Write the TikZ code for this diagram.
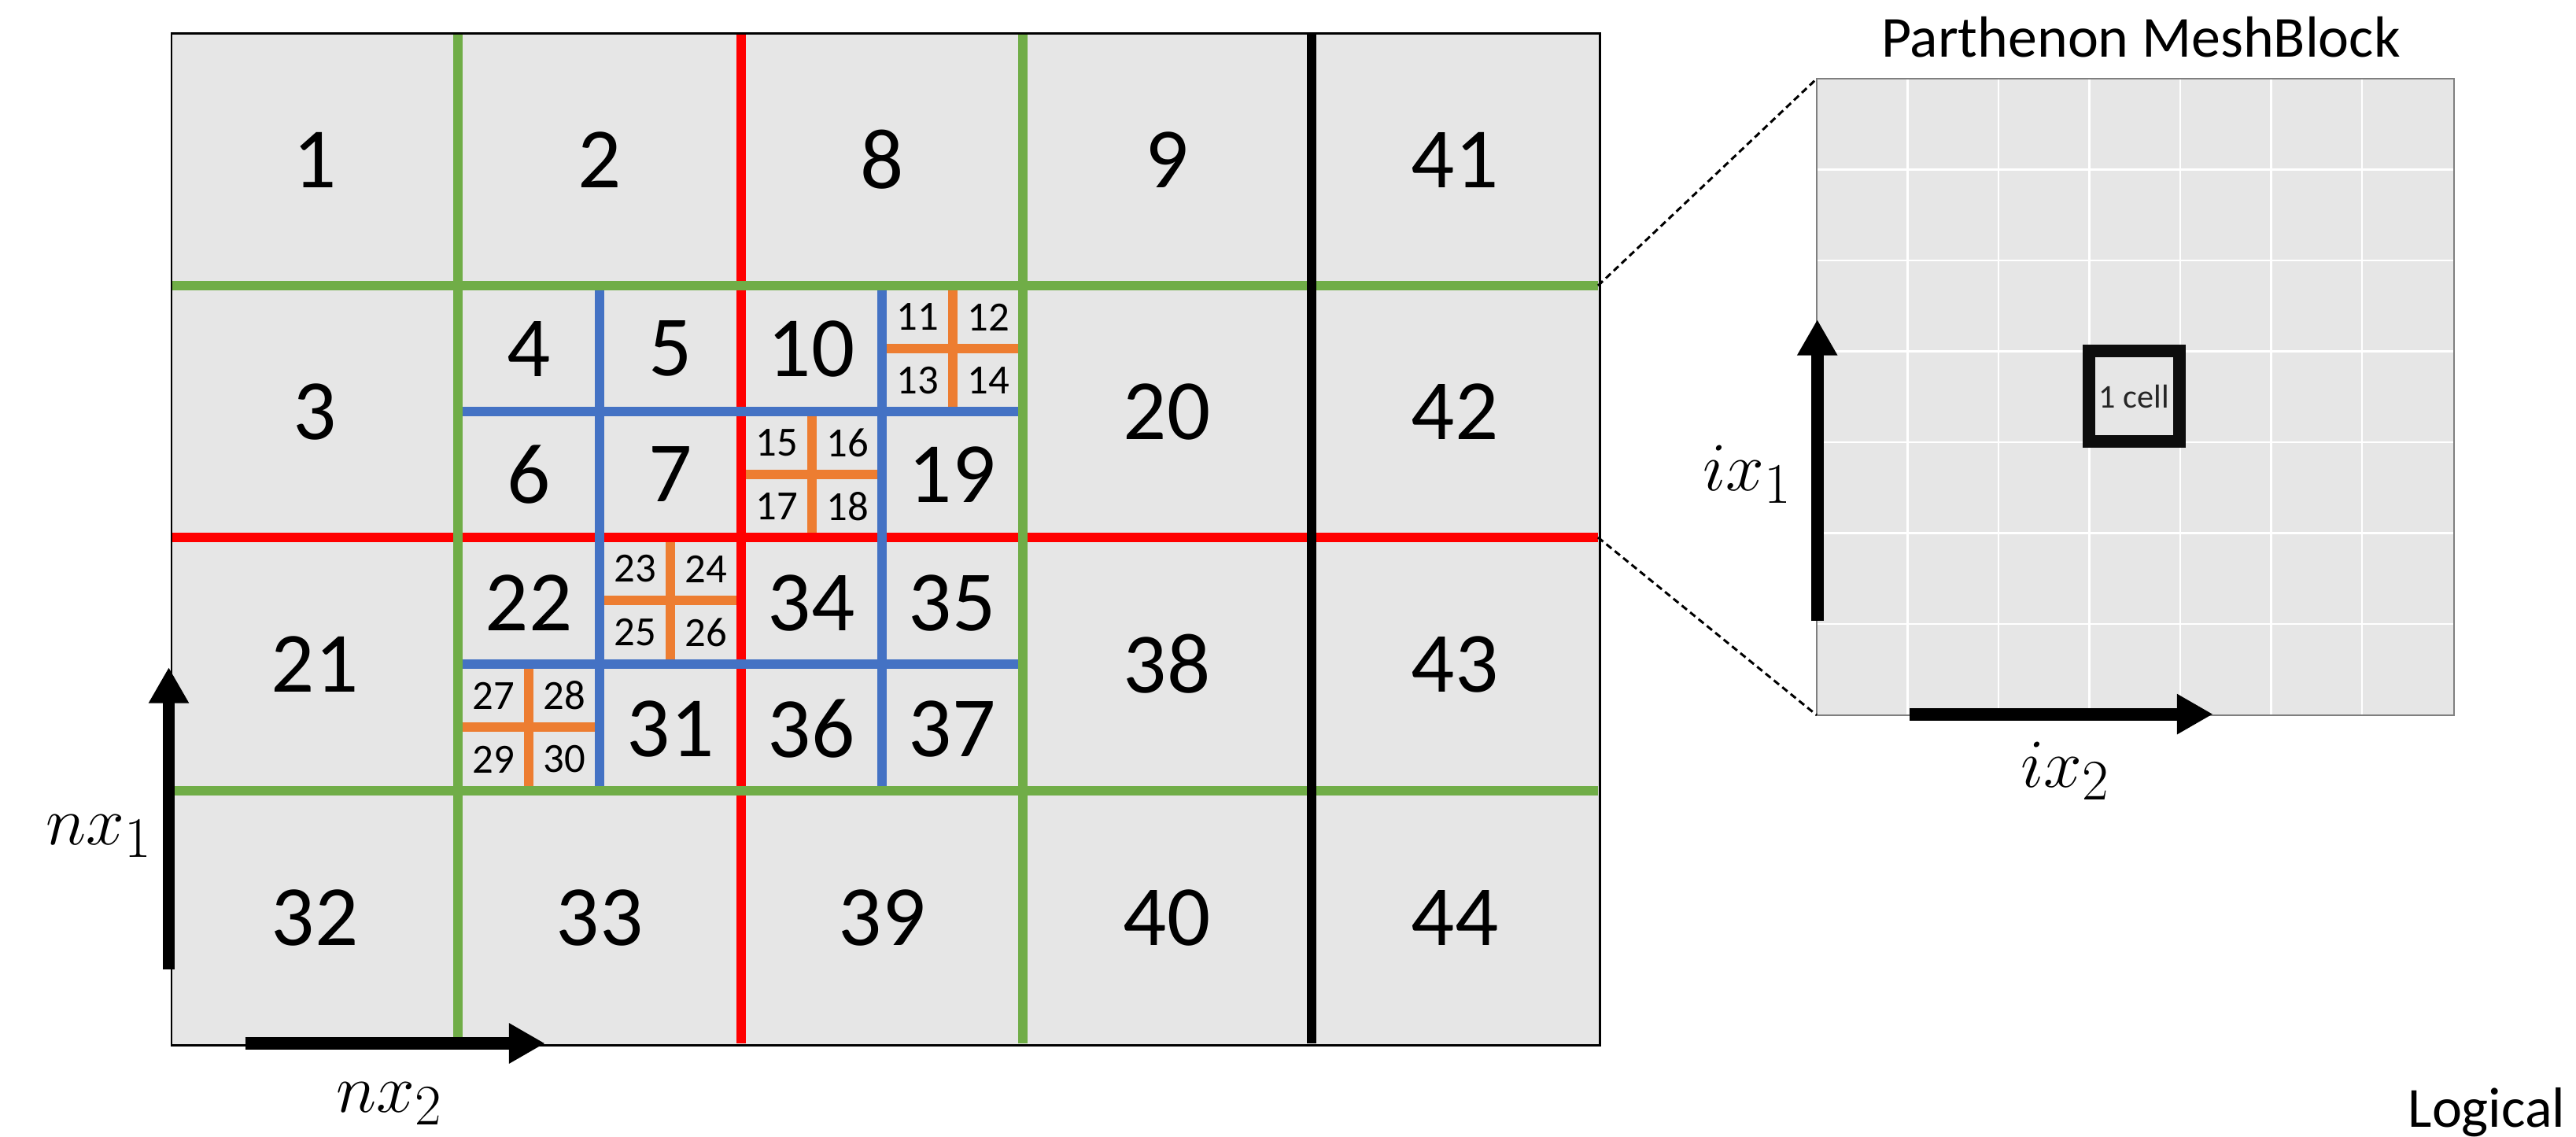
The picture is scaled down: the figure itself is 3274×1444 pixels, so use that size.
\documentclass[tikz,border=0pt]{standalone}
\usepackage{fontspec}
\setmainfont{Carlito}
\usepackage{tikz}
\usetikzlibrary{arrows.meta, positioning, calc}

\definecolor{lvgreen}{HTML}{70AD47}
\definecolor{lvred}{HTML}{FF0000}
\definecolor{lvblue}{HTML}{4472C4}
\definecolor{lvorange}{HTML}{ED7D31}
\definecolor{blockgray}{HTML}{E6E6E6}
\definecolor{edgegray}{HTML}{7F7F7F}
\definecolor{textgray}{HTML}{262626}

\begin{document}
\begin{tikzpicture}[
    x=0.01cm, y=-0.01cm,
    level/.style={line width=3.4pt, draw=#1},
    bignum/.style={font=\fontsize{31}{37}\selectfont, inner sep=0pt},
    smallnum/.style={font=\fontsize{15}{18}\selectfont, inner sep=0pt},
    axis/.style={-{Triangle[length=13pt, width=13.7pt]}, line width=4.5pt},
    axislabel/.style={font=\fontsize{30}{36}\selectfont, anchor=base, inner sep=0pt},
    zoomline/.style={dash pattern=on 2.4pt off 1.5pt, line width=0.85pt}
]
    \useasboundingbox (0,0) rectangle (3274,1444);

    % Mesh background
    \node[fill=blockgray, minimum width=18.13cm, minimum height=12.84cm, inner sep=0pt, anchor=north west] (mesh) at (218,42) {};

    % Refinement level 3 (orange)
    \foreach \x/\y in {1121/363, 942/523, 762/683, 582/844} {
        \draw[level=lvorange] (\x+90,\y) -- (\x+90,\y+160);
        \draw[level=lvorange] (\x,\y+80) -- (\x+180,\y+80);
    }

    % Refinement level 1 (red)
    \draw[level=lvred] (942,42) -- (942,1326);
    \draw[level=lvred] (218,683) -- (2031,683);

    % Refinement level 2 (blue)
    \foreach \x in {762,1121} {
        \draw[level=lvblue] (\x,363) -- (\x,1005);
    }
    \foreach \y in {523,844} {
        \draw[level=lvblue] (582,\y) -- (1300,\y);
    }

    % Root level (green and black)
    \foreach \x in {582,1300} {
        \draw[level=lvgreen] (\x,42) -- (\x,1326);
    }
    \foreach \y in {363,1005} {
        \draw[level=lvgreen] (218,\y) -- (2031,\y);
    }
    \draw[level=black] (1667,42) -- (1667,1326);
    \draw[line width=0.85pt] (mesh.north west) rectangle (mesh.south east);

    % Block numbers
    \foreach \n/\x/\y in {1/400/203, 2/762/203, 8/1121/203, 9/1483/203, 41/1849/203,
        3/400/523, 20/1483/523, 42/1849/523,
        21/400/844, 38/1483/844, 43/1849/844,
        32/400/1166, 33/762/1166, 39/1121/1166, 40/1483/1166, 44/1849/1166,
        4/672/443, 5/852/443, 10/1031/443,
        6/672/603, 7/852/603, 19/1210/603,
        22/672/766, 34/1031/766, 35/1210/766,
        31/852/926, 36/1031/926, 37/1210/926} {
        \node[bignum] (b\n) at (\x,\y) {\n};
    }
    \foreach \x/\y/\a/\b/\c/\d in {1121/363/11/12/13/14, 942/523/15/16/17/18,
        762/683/23/24/25/26, 582/844/27/28/29/30} {
        \node[smallnum] (b\a) at (\x+45,\y+40) {\a};
        \node[smallnum] (b\b) at (\x+135,\y+40) {\b};
        \node[smallnum] (b\c) at (\x+45,\y+121) {\c};
        \node[smallnum] (b\d) at (\x+135,\y+121) {\d};
    }

    % Mesh axes
    \coordinate (nxa) at (214.5,1232);
    \coordinate (nxb) at (214.5,848);
    \coordinate (nya) at (311.5,1326);
    \coordinate (nyb) at (692.7,1326);
    \draw[axis] (nxa) -- (nxb);
    \draw[axis] (nya) -- (nyb);
    \node[axislabel] (nx1) at (126,1073) {$nx_1$};
    \node[axislabel] (nx2) at (495,1413) {$nx_2$};

    % MeshBlock
    \node[fill=blockgray, minimum width=8.085cm, minimum height=8.07cm, inner sep=0pt, anchor=north west] (mb) at (2309,100) {};
    \foreach \i in {1,...,6} {
        \draw[white, line width=0.6pt] ($(mb.north west)+(115.5*\i,0)$) -- ($(mb.south west)+(115.5*\i,0)$);
        \draw[white, line width=0.6pt] ($(mb.north west)+(0,115.5*\i)$) -- ($(mb.north east)+(0,115.5*\i)$);
    }
    \draw[edgegray, line width=0.6pt] (mb.north west) rectangle (mb.south east);
    \node[font=\fontsize{21}{25}\selectfont, anchor=base, inner sep=0pt] (mbtitle) at (2721,72) {Parthenon MeshBlock};
    \node[draw=black!95, line width=4.55pt, minimum size=1.155cm, inner sep=0pt, text=textgray, font=\fontsize{12}{14}\selectfont] (cell) at (2712.5,503.5) {1 cell};

    % Zoom lines
    \coordinate (gtop) at (2031,363);
    \coordinate (gmid) at (2031,683);
    \draw[zoomline] (gtop) -- (mb.north west);
    \draw[zoomline] (gmid) -- (mb.south west);

    % MeshBlock axes
    \coordinate (ixa) at (2309.7,789);
    \coordinate (ixb) at (2309.7,406);
    \coordinate (iya) at (2427,907.6);
    \coordinate (iyb) at (2812.6,907.6);
    \draw[axis] (ixa) -- (ixb);
    \draw[axis] (iya) -- (iyb);
    \node[axislabel] (ix1) at (2221,623) {$ix_1$};
    \node[axislabel] (ix2) at (2625,1000) {$ix_2$};

    \node[font=\fontsize{20.5}{25}\selectfont, anchor=base west, inner sep=0pt] (logical) at (3060,1432) {Logical};
\end{tikzpicture}
\end{document}
